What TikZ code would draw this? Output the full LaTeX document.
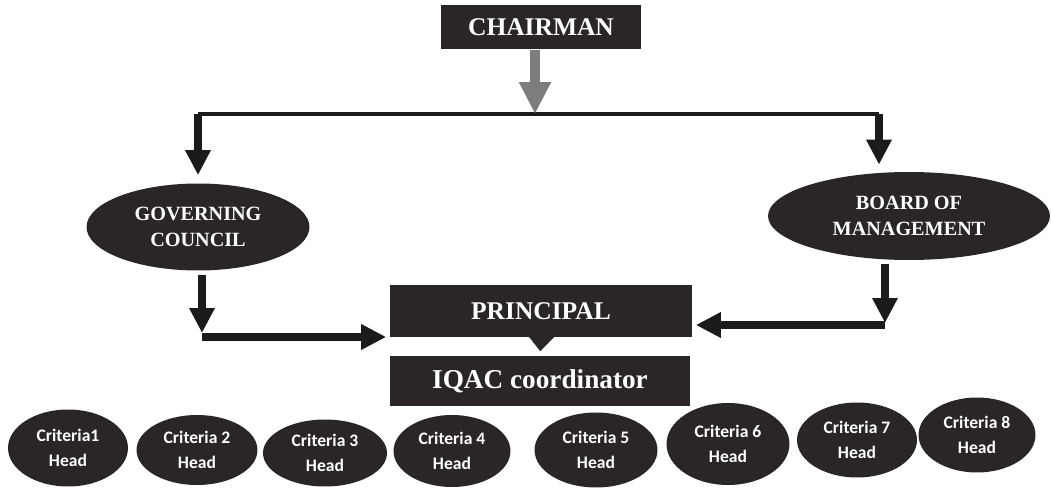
\documentclass[tikz,border=0pt]{standalone}
\usepackage{fontspec}
\setmainfont{Liberation Serif}
\newfontfamily\critfont{Carlito}
\usetikzlibrary{shapes.geometric,arrows.meta,calc}

\definecolor{boxdark}{HTML}{2B2626}
\definecolor{linedark}{HTML}{1C1A1A}
\definecolor{chairgrey}{HTML}{7E7C7C}

\begin{document}
\begin{tikzpicture}[x=0.02cm,y=-0.02cm,
    box/.style={rectangle,fill=boxdark,text=white,inner sep=0pt,font=\bfseries\fontsize{14.5}{17}\selectfont},
    oval/.style={ellipse,fill=boxdark,text=white,inner sep=0pt,align=center,font=\bfseries\fontsize{11.5}{15}\selectfont},
    crit/.style={ellipse,fill=boxdark,text=white,inner sep=0pt,align=center,font=\critfont\bfseries\fontsize{10}{14}\selectfont},
    flow/.style={draw=linedark,line width=1.5mm,-{Triangle[width=4.8mm,length=5mm]}}]

    \useasboundingbox (0,0) rectangle (1052,490);

    \node[box,minimum width=4.02cm,minimum height=0.9cm] (chair) at (541,27) {CHAIRMAN};

    \node[oval,minimum width=4.46cm,minimum height=1.74cm] (gc) at (198,227) {GOVERNING\\COUNCIL};
    \node[oval,minimum width=5.64cm,minimum height=1.76cm] (bm) at (909,216) {BOARD OF\\MANAGEMENT};

    \node[box,minimum width=6.06cm,minimum height=1.04cm] (prin) at (541,311) {PRINCIPAL};
    \node[box,minimum width=6.0cm,minimum height=1.02cm,font=\bfseries\fontsize{15.5}{18}\selectfont] (iqac) at (540,381) {IQAC coordinator};

    % criteria heads
    \foreach \n/\x/\y/\w/\h/\t in {1/68/448/120/77/Criteria1, 2/197/450/121/70/Criteria 2,
        3/325/453/124/67/Criteria 3, 4/452/451/117/72/Criteria 4, 5/596/450/123/75/Criteria 5,
        6/728/444/123/82/Criteria 6, 7/857/440/120/75/Criteria 7, 8/977/435/117/75/Criteria 8}
      \node[crit,minimum width=\w*0.2mm,minimum height=\h*0.2mm] (c\n) at (\x,\y) {\t\\Head};

    \coordinate (split) at (535,114);
    \coordinate (gctop) at (198,114);
    \coordinate (bmtop) at (879,114);
    \coordinate (gcbend) at (202,337);
    \coordinate (bmbend) at (885,325);

    \draw[line width=0.7mm,draw=linedark] (gctop) -- (bmtop);
    \draw[draw=chairgrey,line width=2mm,-{Triangle[width=6mm,length=6.4mm]}] (chair.south -| split) -- (split);

    \draw[flow,shorten >=8*0.2mm] (gctop) -- (gctop |- gc.north);
    \draw[flow,shorten >=7*0.2mm] (bmtop) -- (bmtop |- bm.north);

    \draw[flow] ($(gc.south -| gcbend)+(0,4)$) -- ($(gcbend)+(0,-4)$);
    \draw[flow,shorten >=3*0.2mm] (gcbend) -- (gcbend -| prin.west);
    \draw[flow] ($(bm.south -| bmbend)+(0,4)$) -- ($(bmbend)+(0,-2)$);
    \draw[flow,shorten >=3*0.2mm] (bmbend) -- (bmbend -| prin.east);

    \draw[draw=boxdark,line width=0.1mm,-{Triangle[width=5.6mm,length=3.2mm]},shorten >=0.8mm] (prin.south) -- (iqac.north);
\end{tikzpicture}
\end{document}
